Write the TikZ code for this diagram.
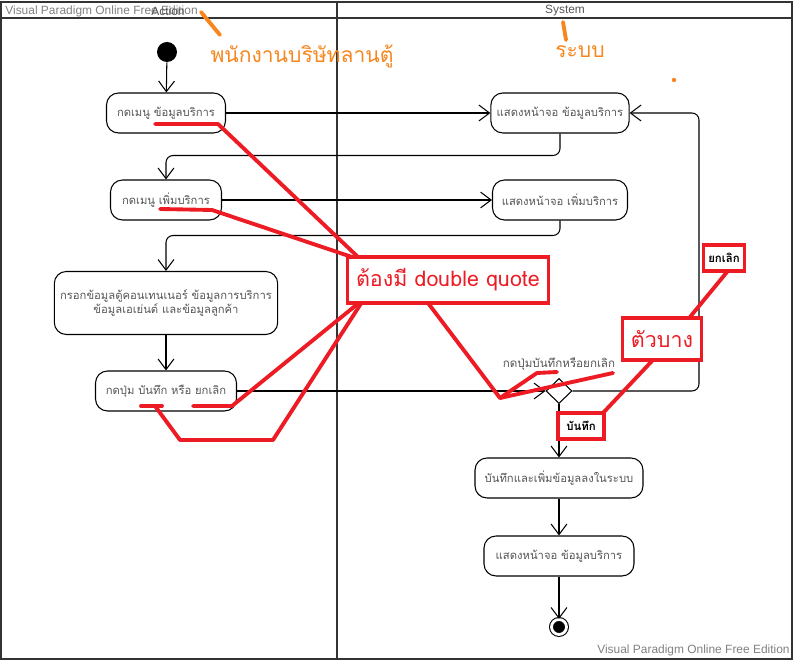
\documentclass[tikz,border=0pt]{standalone}
\usepackage{fontspec}
\setmainfont{Liberation Sans}
\newfontfamily\thaifont[Script=Thai]{Loma}
\usetikzlibrary{shapes.geometric,arrows.meta}

\definecolor{lanegray}{HTML}{333333}
\definecolor{textgray}{HTML}{555555}
\definecolor{markred}{HTML}{ED1C24}
\definecolor{markorange}{HTML}{F7861F}

\begin{document}
\begin{tikzpicture}[
    x=0.02cm, y=-0.02cm,
    lane/.style={draw=lanegray, line width=1.1pt},
    lane-title/.style={font=\fontsize{6.8}{8}\selectfont, text=textgray, inner sep=0},
    watermark/.style={font=\fontsize{6.8}{8}\selectfont, text=gray, inner sep=0},
    act/.style={draw, rectangle, rounded corners=0.24cm, minimum height=0.8cm, line width=0.6pt, align=center, text=textgray, font=\thaifont\fontsize{6.4}{8.3}\selectfont},
    start-node/.style={circle, fill=black, minimum size=0.4cm, inner sep=0},
    end-node/.style={circle, draw, fill=black, minimum size=0.3cm, inner sep=0, double=white, double distance=1.6pt, line width=0.6pt},
    decision/.style={diamond, draw, line width=0.6pt, minimum width=0.52cm, minimum height=0.5cm, inner sep=0},
    flow/.style={-{Straight Barb[length=6pt, width=9pt]}, line width=0.6pt, rounded corners=4pt},
    guard/.style={text=textgray, font=\thaifont\fontsize{6.6}{8}\selectfont, inner sep=0},
    choice/.style={draw=markred, line width=2.2pt, fill=white, font=\thaifont\bfseries\fontsize{6.5}{8}\selectfont, minimum height=0.52cm, inner sep=1pt},
    callout/.style={draw=markred, line width=2.2pt, fill=white, text=markred, font=\thaifont\fontsize{12.2}{14}\selectfont},
    note/.style={text=markorange, font=\thaifont\fontsize{12}{14}\selectfont, inner sep=0},
    pen/.style={draw=markorange, line width=2.2pt, line cap=round},
    scribble/.style={draw=markred, line width=2.2pt, line cap=round, line join=round}
]
\useasboundingbox (0,0) rectangle (796,661);

% --- Swimlanes ---
\draw[lane] (1,2) rectangle (792,659);
\draw[lane] (1,18) -- (792,18);
\draw[lane] (337,2) -- (337,659);
\node[watermark, anchor=west] (wm-top) at (5,11) {Visual Paradigm Online Free Edition};
\node[lane-title] (lane-action) at (168,11) {Action};
\node[lane-title] (lane-system) at (565,11) {System};
\node[watermark, anchor=east] (wm-bottom) at (790,650) {Visual Paradigm Online Free Edition};

% --- Action lane ---
\node[start-node] (start) at (167,52) {};
\node[act, minimum width=2.38cm] (menu-info) at (166,113) {กดเมนู ข้อมูลบริการ};
\node[act, minimum width=2.22cm] (menu-add) at (166,200) {กดเมนู เพิ่มบริการ};
\node[act, minimum width=4.46cm, minimum height=1.26cm] (fill-data) at (166,303)
    {กรอกข้อมูลตู้คอนเทนเนอร์ ข้อมูลการบริการ\\ข้อมูลเอเย่นต์ และข้อมูลลูกค้า};
\node[act, minimum width=2.82cm] (press-btn) at (166,391) {กดปุ่ม บันทึก หรือ ยกเลิก};

% --- System lane ---
\node[act, minimum width=2.7cm] (show-info) at (560,113) {แสดงหน้าจอ ข้อมูลบริการ};
\node[act, minimum width=2.7cm] (show-add) at (560,200) {แสดงหน้าจอ เพิ่มบริการ};
\node[decision] (choose) at (559,391) {};
\node[act, minimum width=3.36cm] (save-data) at (559,478) {บันทึกและเพิ่มข้อมูลลงในระบบ};
\node[act, minimum width=3cm] (show-info2) at (559,556) {แสดงหน้าจอ ข้อมูลบริการ};
\node[end-node] (stop) at (559,627) {};
\coordinate (cancel-turn) at (699,391);

% --- Flows ---
\draw[flow] (start) -- (menu-info);
\draw[flow] (menu-info) -- (show-info);
\draw[flow] (show-info.south) -- ++(0,22) -| (menu-add.north);
\draw[flow] (menu-add) -- (show-add);
\draw[flow] (show-add.south) -- ++(0,15) -| (fill-data.north);
\draw[flow] (fill-data) -- (press-btn);
\draw[flow] (press-btn) -- (choose);
\draw[flow] (choose) -- (save-data);
\draw[flow] (choose.east) -- (cancel-turn) |- (show-info.east);
\draw[flow] (save-data) -- (show-info2);
\draw[flow] (show-info2) -- (stop);
\node[guard] (guard-press) at (559,364) {กดปุ่มบันทึกหรือยกเลิก};

% --- Hand notes ---
\draw[pen] (201,12) -- (220,35);
\draw[pen] (563,22) -- (566,40);
\fill[markorange] (674,80) circle (2.2);
\node[note] (note-staff) at (302,56) {พนักงานบริษัทลานตู้};
\node[note] (note-system) at (580,52) {ระบบ};

% --- Red markup ---
\draw[scribble] (155,124) -- (218,124) -- (358,257);
\draw[scribble] (160,209) -- (212,210) -- (352,257);
\draw[scribble] (141,406) -- (162,406);
\draw[scribble] (193,406) -- (232,406) -- (360,302);
\draw[scribble] (155,406) -- (180,440) -- (273,440) -- (362,302);
\draw[scribble] (428,303) -- (500,398) -- (613,373);
\draw[scribble] (500,398) -- (537,373) -- (557,372);
\draw[scribble] (652,361) -- (603,413);
\draw[scribble] (690,317) -- (727,272);
\node[callout, minimum width=4.02cm, minimum height=0.92cm] (quote-note) at (448,280) {ต้องมี double quote};
\node[callout, minimum width=1.58cm, minimum height=0.84cm] (thin-note) at (662,339) {ตัวบาง};
\node[choice, minimum width=0.92cm] (lbl-save) at (581,426) {บันทึก};
\node[choice, minimum width=0.82cm] (lbl-cancel) at (724,258) {ยกเลิก};

\end{tikzpicture}
\end{document}
